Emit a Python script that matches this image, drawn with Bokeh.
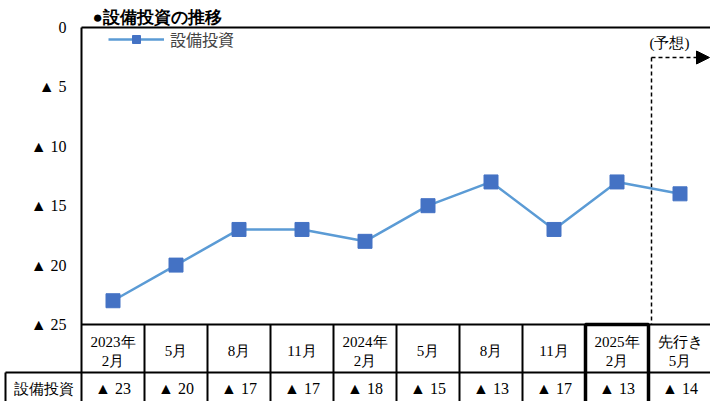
from bokeh.plotting import figure
from bokeh.models import Range1d, Legend, LegendItem, Arrow, NormalHead, LabelSet, ColumnDataSource
from bokeh.embed import file_html
from bokeh.resources import INLINE

# ---- data ----
cat_line1 = ["2023年", "5月", "8月", "11月", "2024年", "5月", "8月", "11月", "2025年", "先行き"]
cat_line2 = ["2月", "", "", "", "2月", "", "", "", "2月", "5月"]
capex = [-23, -20, -17, -17, -18, -15, -13, -17, -13, -14]
y_ticks = [0, 5, 10, 15, 20, 25]
series_name = "設備投資"
title_text = "●設備投資の推移"
forecast_text = "(予想)"

# ---- layout (pixels) ----
W, H = 710, 401
LEFT, COLW = 81, 63
TOP, BOT = 27, 324
ROW2 = 372
K = (BOT - TOP) / 25.0

def xs(px):
    return (px - LEFT) / COLW - 0.5

def ys(py):
    return -(py - TOP) / K

SERIF = "Liberation Serif"
SANS = "Noto Sans CJK JP"

p = figure(width=W, height=H, x_range=Range1d(xs(0), xs(W)), y_range=Range1d(ys(H), ys(0)),
           output_backend="svg", toolbar_location=None, x_axis_type=None, y_axis_type=None,
           min_border=0, outline_line_color=None, background_fill_color="white",
           border_fill_color="white")

n = len(capex)
idx = list(range(n))


def labels(x, y, text, font, size, align="center", style="normal"):
    src = ColumnDataSource(dict(x=x, y=y, text=text))
    p.add_layout(LabelSet(x="x", y="y", text="text", source=src, text_font=font,
                          text_font_size=size, text_align=align, text_baseline="middle",
                          text_color="black", text_font_style=style))


# title
labels([xs(92)], [ys(17)], [title_text], SANS, "17px", "left", "bold")

# y tick labels
labels([xs(66)] * len(y_ticks), [-t for t in y_ticks],
       ["0" if t == 0 else "▲ %d" % t for t in y_ticks], SERIF, "16px", "right")

# frame lines
p.segment(x0=[xs(LEFT), xs(LEFT), xs(LEFT), xs(5), xs(5)],
          y0=[ys(TOP), ys(TOP), ys(BOT), ys(ROW2), ys(ROW2)],
          x1=[xs(W + 2), xs(LEFT), xs(W + 2), xs(W + 2), xs(5)],
          y1=[ys(TOP), ys(H + 2), ys(BOT), ys(ROW2), ys(H + 2)],
          line_color="black", line_width=2)
# column separators
p.segment(x0=[i + 0.5 for i in idx[:-1]], y0=[ys(BOT)] * (n - 1),
          x1=[i + 0.5 for i in idx[:-1]], y1=[ys(H + 2)] * (n - 1),
          line_color="black", line_width=2)
# highlighted column box
p.quad(left=[7.5], right=[8.5], top=[ys(BOT)], bottom=[ys(H + 4)], fill_color=None,
       line_color="black", line_width=3.5)

# forecast marker
p.segment(x0=[xs(651)], y0=[ys(57)], x1=[xs(651)], y1=[ys(BOT)], line_color="black",
          line_width=1.5, line_dash="4 3")
p.add_layout(Arrow(end=NormalHead(size=13, fill_color="black", line_color="black"),
                   x_start=xs(651), y_start=ys(57), x_end=xs(709), y_end=ys(57),
                   line_color="black", line_width=1.5, line_dash="4 3"))
labels([xs(669)], [ys(42)], [forecast_text], SERIF, "15px")

# series
ln = p.line(x=idx, y=capex, line_color="#5B9BD5", line_width=2.5)
sc = p.scatter(x=idx, y=capex, marker="square", size=14, fill_color="#4472C4",
               line_color="#4472C4")

# table header
two = [i for i in idx if cat_line2[i]]
one = [i for i in idx if not cat_line2[i]]
labels(two, [ys(341)] * len(two), [cat_line1[i] for i in two], SERIF, "15px")
labels(two, [ys(360)] * len(two), [cat_line2[i] for i in two], SERIF, "15px")
labels(one, [ys(350)] * len(one), [cat_line1[i] for i in one], SERIF, "15px")

# table data row
labels([xs(43)], [ys(388)], [series_name], SANS, "15px")
labels(idx, [ys(388)] * n, ["▲ %d" % (-v) for v in capex], SERIF, "16px")

legend = Legend(items=[LegendItem(label=series_name, renderers=[ln, sc])],
                location=(108, 350), padding=0, margin=0, spacing=0,
                glyph_width=56, glyph_height=20, label_standoff=6,
                label_text_font=SANS, label_text_font_size="16px",
                border_line_color=None, background_fill_alpha=0)
p.add_layout(legend)

open("out.html", "w").write(file_html(p, INLINE))
